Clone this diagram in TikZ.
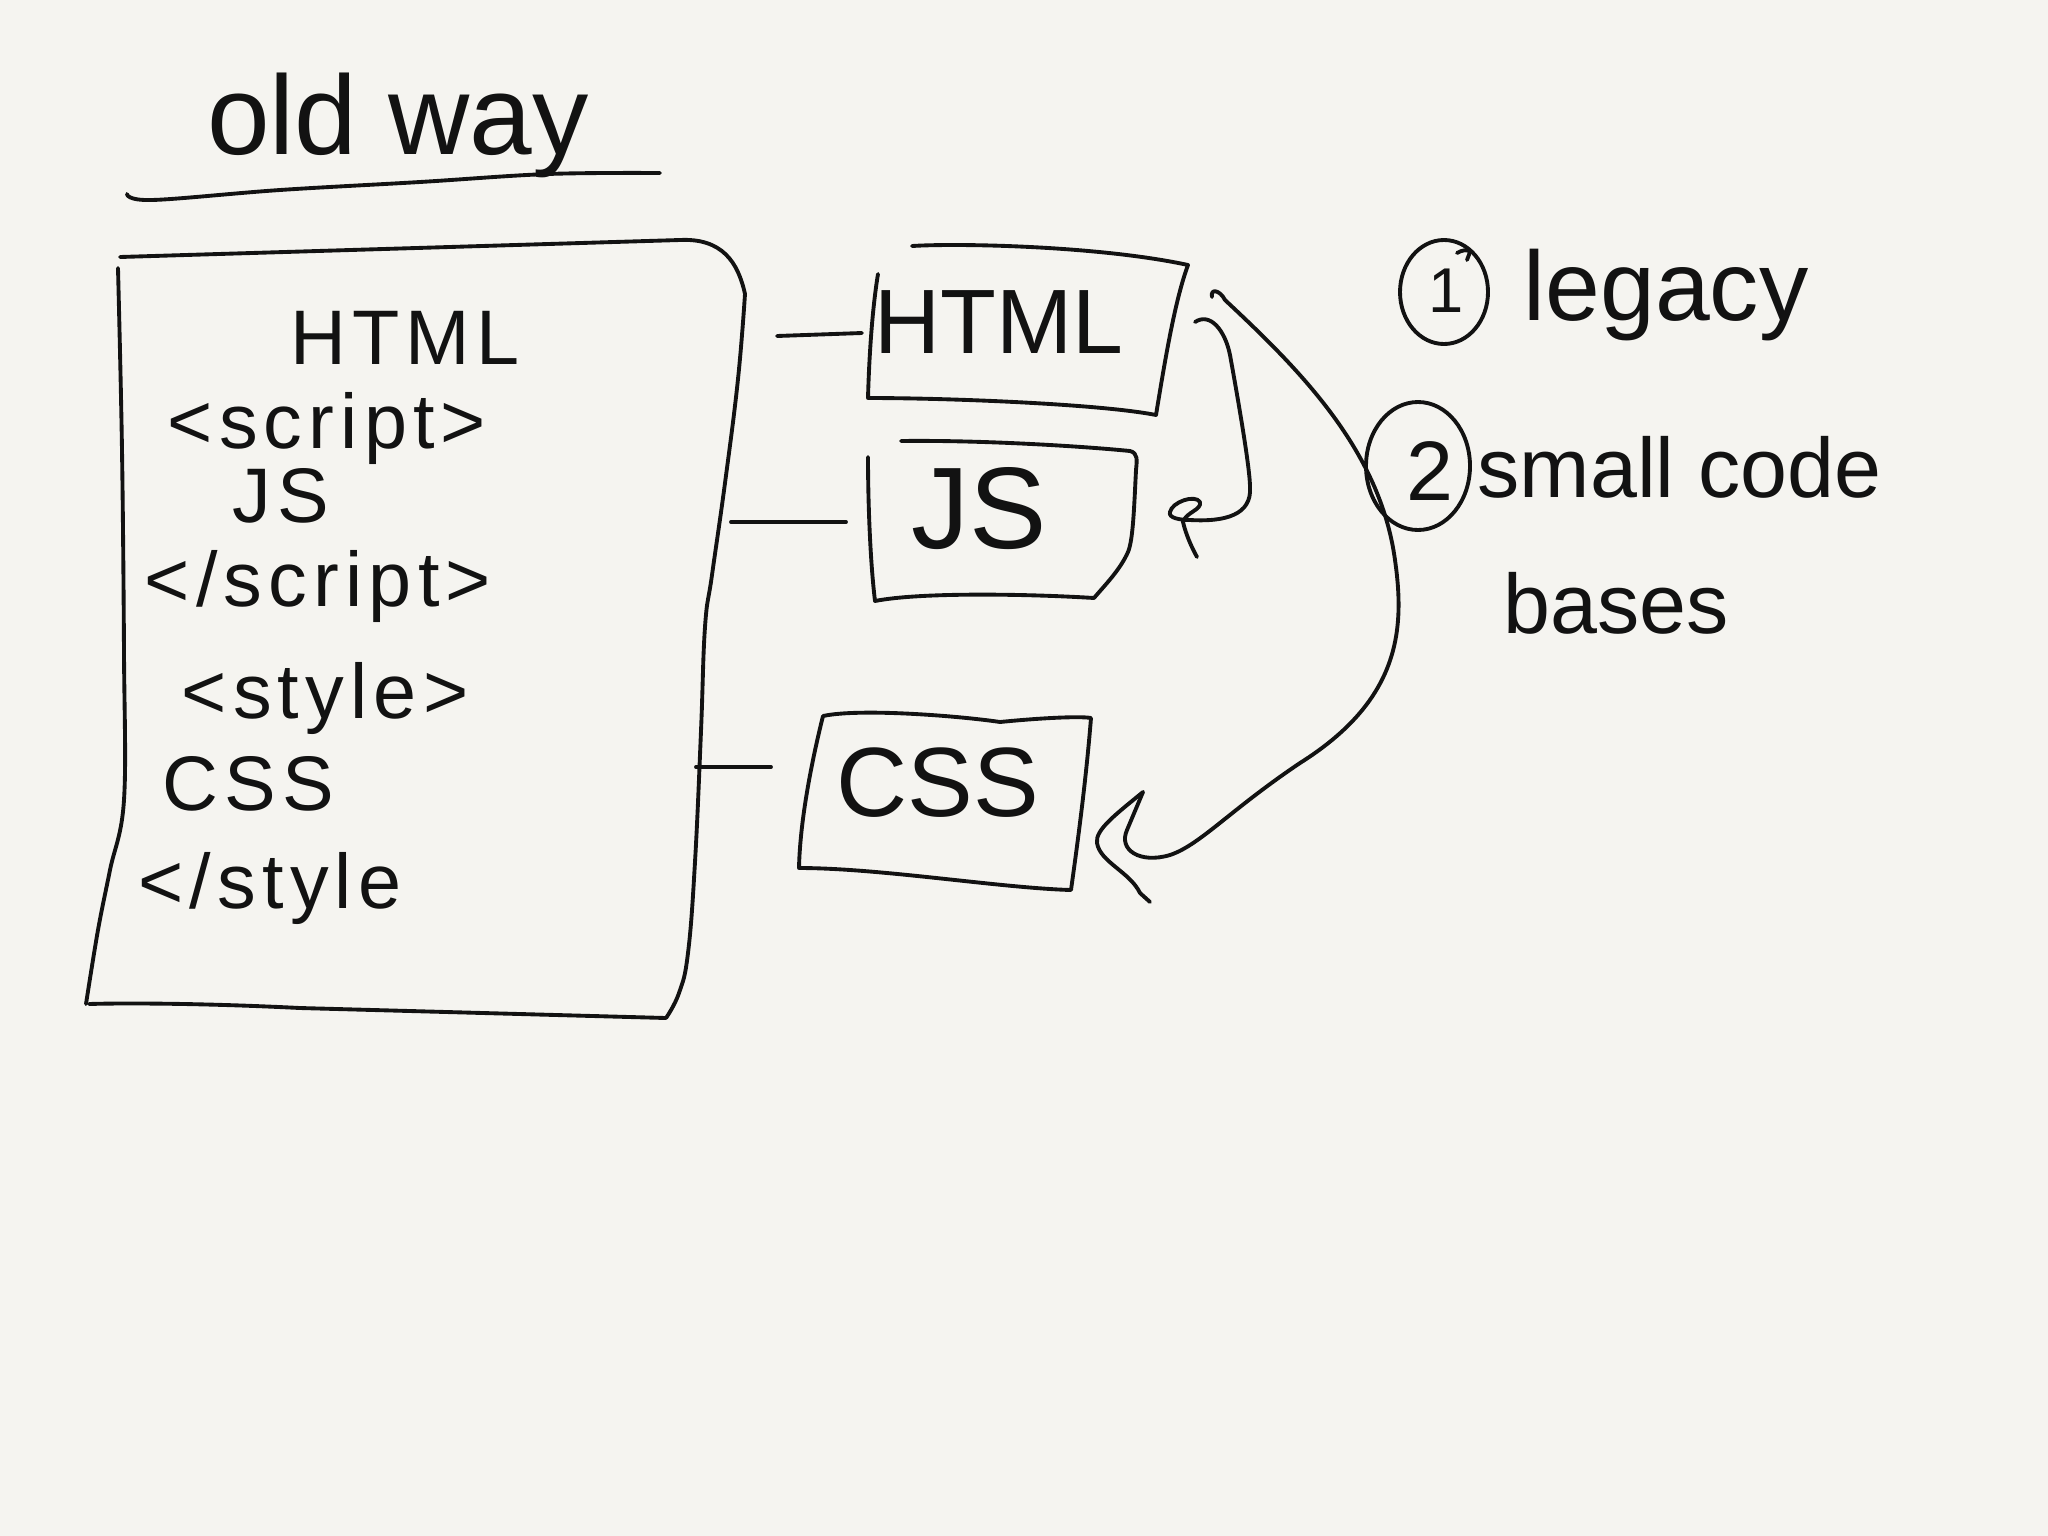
\documentclass[tikz,border=0pt]{standalone}
\usepackage{fontspec}
\setmainfont{Liberation Sans}
\newfontfamily\hand[LetterSpace=8]{Liberation Sans}
\definecolor{paper}{RGB}{245,244,240}
\definecolor{ink}{RGB}{18,18,18}
\begin{document}
\begin{tikzpicture}[x=0.01cm,y=-0.01cm,
  pen/.style={draw=ink,line width=1.1pt,line cap=round,line join=round},
  txt/.style={text=ink,inner sep=0pt,anchor=base},
  txtw/.style={text=ink,inner sep=0pt,anchor=base west},
  boxtxt/.style={txt,font=\hand\fontsize{22}{25}\selectfont}]
\fill[paper] (0,0) rectangle (2048,1536);
\useasboundingbox (0,0) rectangle (2048,1536);

% title
\node[txt,font=\fontsize{32}{36}\selectfont] (title) at (398,154) {old way};
\draw[pen] plot[smooth,tension=0.6] coordinates {(127,194) (152,200) (280,190) (420,182) (548,174) (660,173)};

% big box
\draw[pen] (120,257) -- (680,240) .. controls (722,238) and (738,262) .. (745,294);
\draw[pen] plot[smooth,tension=0.7] coordinates {(745,294) (738,379) (725,483) (712,575) (705,627) (701,731) (695,862) (688,953) (679,993) (666,1018)};
\draw[pen] (89,1004) .. controls (120,1003) and (200,1003) .. (300,1008) -- (666,1018);
\draw[pen] plot[smooth,tension=0.6] coordinates {(118,268) (122,450) (124,653) (124,800) (110,870) (98,930) (86,1004)};

\node[boxtxt] (bHTML) at (405,364) {HTML};
\node[boxtxt] (bscript) at (327,448) {<script>};
\node[boxtxt] (bJS) at (281,522) {JS};
\node[boxtxt] (bescript) at (318,606) {</script>};
\node[boxtxt] (bstyle) at (325,718) {<style>};
\node[boxtxt] (bCSS) at (248,810) {CSS};
\node[boxtxt] (bestyle) at (270,908) {</style};

% HTML box
\draw[pen] (912,246) .. controls (960,243) and (1100,246) .. (1188,265)
  .. controls (1175,300) and (1165,360) .. (1156,415)
  .. controls (1100,404) and (950,398) .. (868,398)
  .. controls (869,360) and (872,310) .. (878,274);
\node[txt,font=\fontsize{26}{30}\selectfont] (sHTML) at (999,353) {HTML};

% JS box
\draw[pen] (901,441) .. controls (980,440) and (1080,446) .. (1130,451)
  .. controls (1138,453) and (1137,460) .. (1136,470)
  .. controls (1134,510) and (1133,540) .. (1128,552)
  .. controls (1120,570) and (1105,585) .. (1094,598)
  .. controls (1030,594) and (920,592) .. (875,601)
  .. controls (870,560) and (868,500) .. (868,457);
\node[txt,font=\fontsize{33}{36}\selectfont] (sJS) at (979,548) {JS};

% CSS box
\draw[pen] (823,716) .. controls (860,708) and (960,716) .. (1000,722)
  .. controls (1040,718) and (1080,716) .. (1091,718)
  .. controls (1086,780) and (1078,840) .. (1071,890)
  .. controls (1000,888) and (880,868) .. (799,868)
  .. controls (800,820) and (812,760) .. (823,716);
\node[txt,font=\fontsize{28}{32}\selectfont] (sCSS) at (938,816) {CSS};

% connectors from big box to small boxes
\coordinate (o1) at (777,336); \coordinate (i1) at (862,333);
\coordinate (o2) at (731,522); \coordinate (i2) at (846,522);
\coordinate (o3) at (696,767); \coordinate (i3) at (771,767);
\draw[pen] (o1) -- (i1);
\draw[pen] (o2) -- (i2);
\draw[pen] (o3) -- (i3);

% curve HTML -> JS
\coordinate (a1s) at (1195,322);
\coordinate (a1e) at (1190,520);
\draw[pen] (a1s) .. controls (1210,312) and (1225,330) .. (1230,355)
  .. controls (1240,410) and (1250,470) .. (1250,487)
  .. controls (1252,515) and (1225,522) .. (a1e);
\draw[pen] (a1e) .. controls (1180,520) and (1168,518) .. (1170,512)
  .. controls (1172,502) and (1195,494) .. (1200,502)
  .. controls (1202,510) and (1186,512) .. (1183,522)
  .. controls (1186,535) and (1192,548) .. (1197,557);

% curve HTML -> CSS
\coordinate (a2s) at (1212,297);
\coordinate (a2e) at (1143,792);
\draw[pen] (a2s) .. controls (1210,288) and (1220,290) .. (1225,300)
  .. controls (1300,370) and (1380,450) .. (1395,560)
  .. controls (1405,630) and (1400,700) .. (1300,763)
  .. controls (1230,810) and (1200,845) .. (1170,855)
  .. controls (1140,864) and (1118,850) .. (1127,830) -- (a2e);
\draw[pen] (a2e) .. controls (1115,815) and (1095,830) .. (1097,843)
  .. controls (1100,862) and (1130,872) .. (1140,893) -- (1150,902);

% right notes
\draw[pen] (1444,292) ellipse [x radius=44,y radius=52];
\draw[pen] (1457,253) .. controls (1462,250) and (1468,249) .. (1470,252) -- (1467,260);
\node[txt,font=\fontsize{18}{20}\selectfont] (n1) at (1446,312) {1};
\node[txtw,font=\fontsize{28}{32}\selectfont] (legacy) at (1523,320) {legacy};

\draw[pen] (1418,466) ellipse [x radius=52,y radius=64];
\node[txt,font=\fontsize{24}{28}\selectfont] (n2) at (1430,500) {2};
\node[txtw,font=\fontsize{24}{28}\selectfont] (small) at (1477,497) {small code};
\node[txtw,font=\fontsize{24}{28}\selectfont] (bases) at (1503,633) {bases};
\end{tikzpicture}
\end{document}
